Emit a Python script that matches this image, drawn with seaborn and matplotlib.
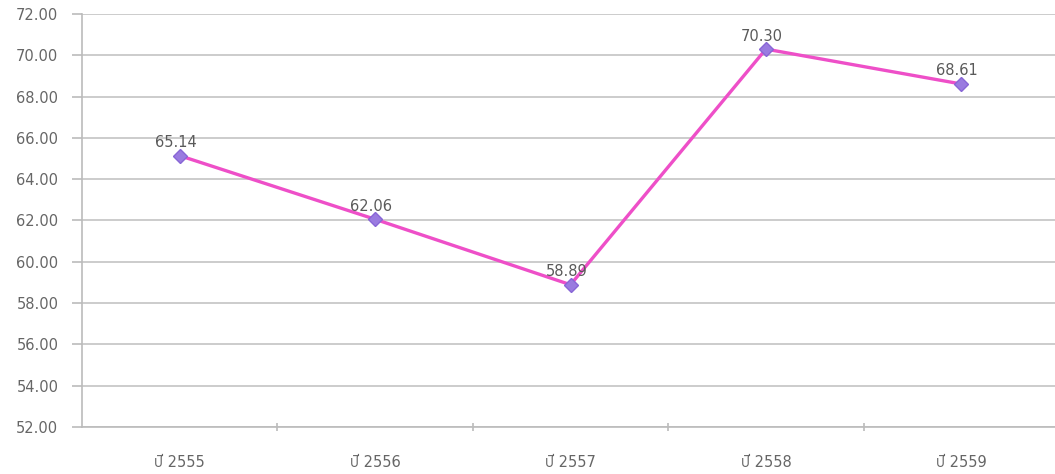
import matplotlib
matplotlib.use("Agg")
import matplotlib.pyplot as plt
import seaborn as sns
import pandas as pd

# ข้อมูล
ปี = ['ปี 2555', 'ปี 2556', 'ปี 2557', 'ปี 2558', 'ปี 2559']
ค่า = [65.14, 62.06, 58.89, 70.30, 68.61]
y_ticks = [52, 54, 56, 58, 60, 62, 64, 66, 68, 70, 72]

df = pd.DataFrame({'ปี': ปี, 'ค่า': ค่า})

sns.set_theme(style='white')
plt.rcParams['font.family'] = ['DejaVu Sans', 'IBM Plex Sans Thai']

fig = plt.figure(figsize=(10.55, 4.74), dpi=100)
ax = fig.add_axes([82 / 1055, 47 / 474, 977 / 1055, 413 / 474])

x = list(range(len(ปี)))
sns.lineplot(x=x, y=df['ค่า'], ax=ax, color='#EE4FC8', linewidth=2.4,
             marker='D', markersize=7, markerfacecolor='#9A7BE0',
             markeredgecolor='#8866D6', markeredgewidth=1)

# ป้ายค่าบนจุด
for xi, v in zip(x, ค่า):
    ax.annotate(f'{v:.2f}', (xi, v), xytext=(-3, 4), textcoords='offset points',
                ha='center', va='bottom', fontsize=10.5, color='#5A5A5A')

ax.set_xlim(-0.5, len(ปี) - 0.5)
ax.set_ylim(52, 72)
ax.set_yticks(y_ticks)
ax.set_yticklabels([f'{t:.2f}' for t in y_ticks])
ax.set_xticks(x)
ax.set_xticklabels(ปี)
ax.set_xticks([i + 0.5 for i in range(len(ปี) - 1)], minor=True)

ax.grid(axis='y', color='#C4C4C4', linewidth=1.2)
ax.set_axisbelow(True)
for s in ['top', 'right']:
    ax.spines[s].set_visible(False)
ax.spines['left'].set_color('#BBBBBB')
ax.spines['bottom'].set_color('#BBBBBB')
ax.spines['left'].set_linewidth(1.2)
ax.spines['bottom'].set_linewidth(1.2)

ax.tick_params(axis='y', which='major', left=True, length=7, width=1.2,
               color='#BBBBBB', labelsize=10.5, labelcolor='#666666', pad=10)
ax.tick_params(axis='x', which='major', bottom=False, labelsize=10.5,
               labelcolor='#666666', pad=14)
ax.tick_params(axis='x', which='minor', bottom=True, length=6, width=1.2,
               color='#BBBBBB', direction='inout')
ax.set_xlabel('')
ax.set_ylabel('')

fig.savefig('out.png', dpi=100)
